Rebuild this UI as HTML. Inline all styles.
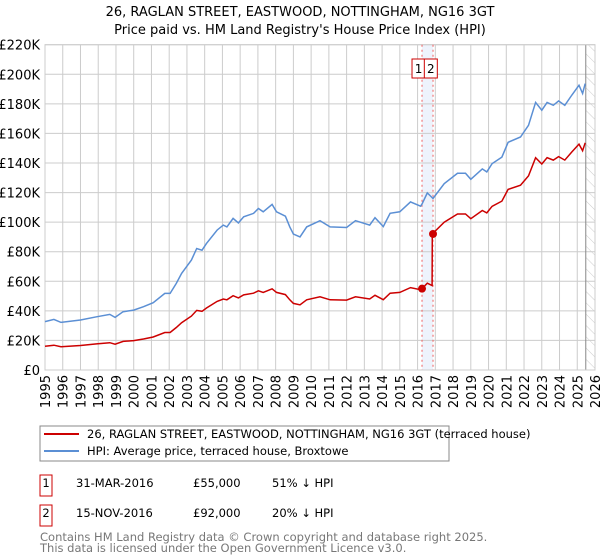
<!DOCTYPE html>
<html><head><meta charset="utf-8"><style>
body{margin:0;background:#fff;font-family:"Liberation Sans","DejaVu Sans",sans-serif;}
#wrap{position:relative;width:600px;height:560px;overflow:hidden}
svg text{font-family:"DejaVu Sans","Liberation Sans",sans-serif}
</style></head><body><div id="wrap">
<svg id="chart" width="600" height="560"></svg>
</div>
<script>
const hpiYears=[1995,1995.5,1995.9,1997,1997.9,1998.65,1998.95,1999.4,2000,2000.55,2001.1,2001.75,2002.05,2002.4,2002.7,2003.25,2003.55,2003.85,2004.1,2004.7,2005.05,2005.25,2005.6,2005.9,2006.2,2006.75,2007.03,2007.3,2007.8,2008.05,2008.55,2008.8,2009,2009.37,2009.75,2010.5,2011.07,2012,2012.5,2013.3,2013.6,2014.07,2014.45,2015,2015.6,2016.17,2016.25,2016.55,2016.87,2017.5,2018.25,2018.7,2019,2019.65,2019.9,2020.2,2020.75,2021.1,2021.8,2022.25,2022.65,2023,2023.3,2023.65,2023.95,2024.3,2024.7,2025.1,2025.3,2025.45];
const hpiValues=[32.7,34.2,32.2,33.8,36,37.6,35.6,39.4,40.5,42.8,45.5,51.8,51.8,58.6,65.3,74.3,82.2,81,85.6,94.6,98,96.8,102.5,99.5,103.6,105.9,109.2,107,112,107,104,96.8,91.9,90,96.8,101,96.8,96.4,101,98,103,97,106,107,113.7,110.8,112.2,119.8,116,126,133,133,129,136,134,139.6,144,154,157.6,165.5,181,175.7,181,179,182,179,186,192.6,187,193.7];
const saleYears=[2016.25,2016.87];
const salePrices=[55,92];
const saleLabels=["1","2"];
const yTicks=[0,20,40,60,80,100,120,140,160,180,200,220];
const xTicks=[1995,1996,1997,1998,1999,2000,2001,2002,2003,2004,2005,2006,2007,2008,2009,2010,2011,2012,2013,2014,2015,2016,2017,2018,2019,2020,2021,2022,2023,2024,2025,2026];

const NS="http://www.w3.org/2000/svg";
const svg=document.getElementById('chart');
const L=45,R=595,T=44.7,B=370;
const X=y=>L+(y-1995)/(2026-1995)*(R-L);
const Y=v=>B-v/220*(B-T);
function mk(tag,at,parent){const e=document.createElementNS(NS,tag);for(const k in at)e.setAttribute(k,at[k]);(parent||svg).appendChild(e);return e;}
function hpiAt(t){for(let i=0;i<hpiYears.length-1;i++){if(t>=hpiYears[i]&&t<=hpiYears[i+1]){const f=(t-hpiYears[i])/(hpiYears[i+1]-hpiYears[i]);return hpiValues[i]+f*(hpiValues[i+1]-hpiValues[i]);}}return hpiValues[hpiValues.length-1];}

let t=mk('text',{x:300,y:16,'text-anchor':'middle','font-size':13,fill:'#000'});t.textContent="26, RAGLAN STREET, EASTWOOD, NOTTINGHAM, NG16 3GT";


t=mk('text',{x:300,y:34,'text-anchor':'middle','font-size':13,fill:'#000'});t.textContent="Price paid vs. HM Land Registry's House Price Index (HPI)";



let band=mk('rect',{x:X(saleYears[0]),y:T,width:X(saleYears[1])-X(saleYears[0]),height:B-T,fill:'#eef3fc'});



yTicks.forEach(v=>{const g=mk('line',{x1:L,x2:R,y1:Y(v),y2:Y(v),stroke:'#cccccc','stroke-width':1});


const lb=mk('text',{x:40,y:Y(v)+5,'text-anchor':'end','font-size':13,fill:'#000'});lb.textContent=v===0?'£0':'£'+v+'K';

});
xTicks.forEach(yr=>{const g=mk('line',{x1:X(yr),x2:X(yr),y1:T,y2:B,stroke:'#cccccc','stroke-width':1});


const lb=mk('text',{x:0,y:0,'text-anchor':'end','font-size':13,fill:'#000',transform:`translate(${X(yr)+5},375) rotate(-90)`});lb.textContent=yr;

});

const defs=mk('defs',{});const pat=mk('pattern',{id:'h',width:8,height:8,patternUnits:'userSpaceOnUse',patternTransform:'rotate(-45)'},defs);
mk('line',{x1:0,y1:0,x2:0,y2:8,stroke:'#cccccc','stroke-width':1},pat);
const xe=X(2025.48);
let hz=mk('rect',{x:xe,y:T,width:R-xe,height:B-T,fill:'url(#h)'});


mk('line',{x1:xe,x2:xe,y1:T,y2:B,stroke:'#888','stroke-width':1});
mk('rect',{x:L,y:T,width:R-L,height:B-T,fill:'none',stroke:'#cccccc'});

saleYears.forEach(s=>{const l=mk('line',{x1:X(s),x2:X(s),y1:T,y2:B,stroke:'#f06060','stroke-dasharray':'2,3','stroke-width':1});

});

let d=hpiYears.map((y,i)=>(i?'L':'M')+X(y).toFixed(1)+','+Y(hpiValues[i]).toFixed(1)).join('');
let hp=mk('path',{d,fill:'none',stroke:'#5b8fd4','stroke-width':1.5});



const r1=salePrices[0]/hpiAt(saleYears[0]), r2=salePrices[1]/hpiAt(saleYears[1]);
let pts=[];
hpiYears.forEach((y,i)=>{if(y<=saleYears[1]-0.05)pts.push([y,hpiValues[i]*r1]);});
pts.push([saleYears[1]-0.05,hpiAt(saleYears[1]-0.05)*r1]);
pts.push([saleYears[1]-0.04,salePrices[1]]);
hpiYears.forEach((y,i)=>{if(y>saleYears[1])pts.push([y,hpiValues[i]*r2]);});
d=pts.map((p,i)=>(i?'L':'M')+X(p[0]).toFixed(1)+','+Y(p[1]).toFixed(1)).join('');
let rp=mk('path',{d,fill:'none',stroke:'#cc0000','stroke-width':1.5});


saleYears.forEach((s,i)=>{const c=mk('circle',{cx:X(s),cy:Y(salePrices[i]),r:4,fill:'#cc0000'});


const bx=mk('rect',{x:X(saleYears[0])-10+i*12.3,y:59,width:13,height:19,fill:'#fff',stroke:'#cc0000'});


const tx=mk('text',{x:X(saleYears[0])-3.5+i*12.3,y:73,'text-anchor':'middle','font-size':12,fill:'#000'});tx.textContent=saleLabels[i];

});

const lg=mk('g',{});


mk('rect',{x:40,y:426,width:409,height:35,fill:'#fff',stroke:'#888'},lg);
mk('line',{x1:44,x2:79,y1:434,y2:434,stroke:'#cc0000','stroke-width':2},lg);
mk('line',{x1:44,x2:79,y1:451,y2:451,stroke:'#5b8fd4','stroke-width':2},lg);
t=mk('text',{x:87,y:438,'font-size':11.5,fill:'#000'},lg);t.textContent="26, RAGLAN STREET, EASTWOOD, NOTTINGHAM, NG16 3GT (terraced house)";


t=mk('text',{x:87,y:455,'font-size':11.5,fill:'#000'},lg);t.textContent="HPI: Average price, terraced house, Broxtowe";



const rows=[["1","31-MAR-2016","£55,000","51% ↓ HPI",475],["2","15-NOV-2016","£92,000","20% ↓ HPI",505]];
rows.forEach(r=>{const g=mk('g',{});


mk('rect',{x:40,y:r[4],width:12,height:21,fill:'#fff',stroke:'#cc0000'},g);
let a=mk('text',{x:46,y:r[4]+12,'text-anchor':'middle','font-size':11.5},g);a.textContent=r[0];
a=mk('text',{x:76,y:r[4]+12,'font-size':11.5},g);a.textContent=r[1];
a=mk('text',{x:193,y:r[4]+12,'font-size':11.5},g);a.textContent=r[2];
a=mk('text',{x:272,y:r[4]+12,'font-size':11.5},g);a.textContent=r[3];});
t=mk('text',{x:40,y:541,'font-size':11.5,fill:'#777'});t.textContent="Contains HM Land Registry data © Crown copyright and database right 2025.";


t=mk('text',{x:40,y:552,'font-size':11.5,fill:'#777'});t.textContent="This data is licensed under the Open Government Licence v3.0.";


</script></body></html>
